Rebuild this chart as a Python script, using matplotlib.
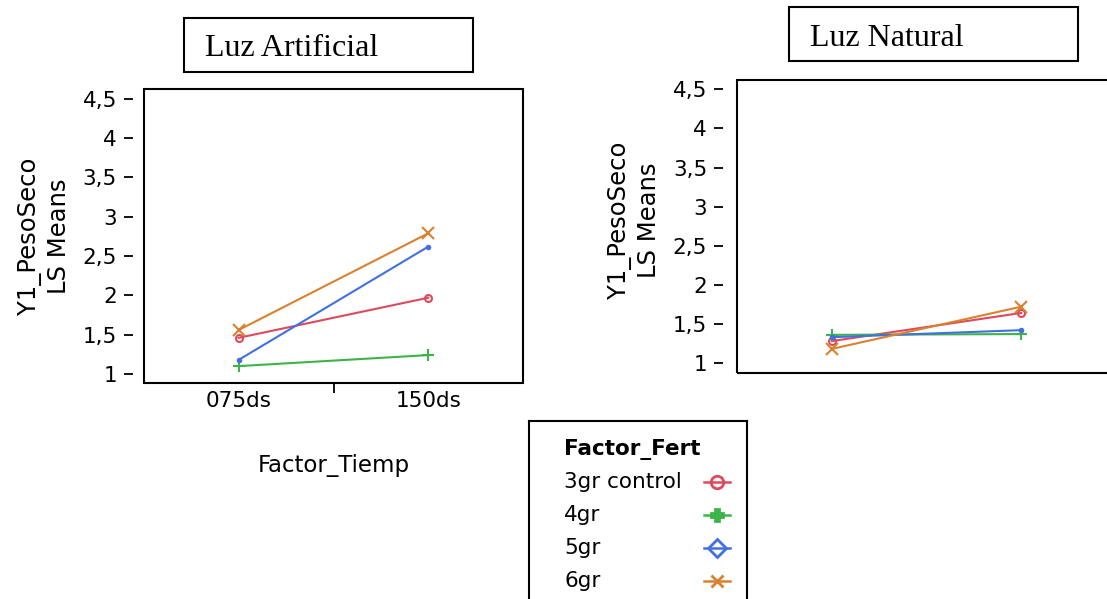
import matplotlib
matplotlib.use("Agg")
import matplotlib.pyplot as plt
from matplotlib.patches import Rectangle

# ---- data ----
times = ["075ds", "150ds"]
fert_levels = ["3gr control", "4gr", "5gr", "6gr"]
colors = ["#dc4a5c", "#3cb449", "#4170e0", "#d9812e"]
plot_markers = ["o", "+", ".", "x"]
legend_markers = ["o", "P", "D", "x"]

artificial = {
    "3gr control": [1.46, 1.97],
    "4gr": [1.10, 1.24],
    "5gr": [1.18, 2.62],
    "6gr": [1.56, 2.79],
}
natural = {
    "3gr control": [1.28, 1.64],
    "4gr": [1.36, 1.37],
    "5gr": [1.33, 1.42],
    "6gr": [1.18, 1.72],
}
y_ticks = [1, 1.5, 2, 2.5, 3, 3.5, 4, 4.5]
y_ticklabels = [f"{v:g}".replace(".", ",") for v in y_ticks]

W, H = 1107, 599
fig = plt.figure(figsize=(W / 100, H / 100), dpi=100)
fs = 15.5


def px_axes(x0, y0, x1, y1):
    return fig.add_axes([x0 / W, 1 - y1 / H, (x1 - x0) / W, (y1 - y0) / H])


def draw_panel(ax, data, ylim, outward, show_x):
    # spine position first: it resets the ticks
    ax.spines["left"].set_position(("outward", outward))
    ax.spines["left"].set_visible(False)
    for s in ["top", "right", "bottom"]:
        ax.spines[s].set_visible(False)
    xpos = [0.5, 1.5]
    for name, c, m in zip(fert_levels, colors, plot_markers):
        ms = {"o": 5, "+": 9, ".": 5, "x": 8}[m]
        ax.plot(xpos, data[name], color=c, lw=1.5, marker=m, ms=ms,
                mfc="none" if m == "o" else c, mec=c, mew=1.5)
    ax.set_xlim(0, 2)
    ax.set_ylim(*ylim)
    ax.set_yticks(y_ticks)
    ax.set_yticklabels(y_ticklabels)
    ax.tick_params(axis="y", direction="out", length=6.5, width=1.3, pad=5,
                   labelsize=fs)
    # frame drawn as a box so the ticks can sit apart from it
    ax.add_patch(Rectangle((0, 0), 1, 1, transform=ax.transAxes, fill=False,
                           lw=1.5, ec="black", clip_on=False, zorder=5))
    ax.set_xticks([1])
    ax.set_xticklabels([""])
    ax.tick_params(axis="x", direction="out", length=7, width=1.3)
    if show_x:
        ax.set_xticks(xpos, minor=True)
        ax.set_xticklabels(times, minor=True)
        ax.tick_params(axis="x", which="minor", length=0, pad=6, labelsize=fs)
    else:
        ax.tick_params(axis="x", length=0)
    ax.set_ylabel("Y1_PesoSeco\nLS Means", fontsize=17.5, linespacing=1.25)


# left panel: Luz Artificial
ax1 = px_axes(144, 89, 523, 383)
draw_panel(ax1, artificial, (0.885, 4.626), 8, True)
ax1.yaxis.set_label_coords(-0.193, 0.5)
ax1.set_xlabel("Factor_Tiemp", fontsize=16.5, labelpad=31)

# right panel: Luz Natural (cropped at its bottom and right)
ax2 = px_axes(737, 80, 1116, 373)
draw_panel(ax2, natural, (0.872, 4.619), 10, False)
ax2.yaxis.set_label_coords(-0.201, 0.52)

# title boxes
for (x0, y0, x1, y1), label in [((184, 18, 473, 72), "Luz Artificial"),
                                ((789, 7, 1078, 61), "Luz Natural")]:
    fig.add_artist(Rectangle((x0 / W, 1 - y1 / H), (x1 - x0) / W, (y1 - y0) / H,
                             transform=fig.transFigure, fill=False, lw=1.5, ec="black"))
    fig.text((x0 + 21) / W, 1 - ((y0 + y1) / 2 + 4) / H, label,
             family="Liberation Serif", fontsize=23, va="center", ha="left")

# legend box
lg = px_axes(529, 421, 747, 605)
lg.set_xlim(529, 747)
lg.set_ylim(605, 421)
lg.set_xticks([])
lg.set_yticks([])
lg.spines["bottom"].set_visible(False)
for s in ["left", "top", "right"]:
    lg.spines[s].set_linewidth(1.5)
lg.set_facecolor("none")
lg.text(564, 450, "Factor_Fert", fontsize=fs, fontweight="bold", va="center")
for i, (name, c, m) in enumerate(zip(fert_levels, colors, legend_markers)):
    y = 482 + i * 33
    lg.text(564, y, name, fontsize=fs, va="center")
    lg.plot([704, 730], [y, y], color=c, lw=1.8)
    lg.plot([717], [y], marker=m, color=c, ms=9, mfc="none" if m in "oD" else c,
            mec=c, mew=2)

fig.savefig("out.png", dpi=100)
